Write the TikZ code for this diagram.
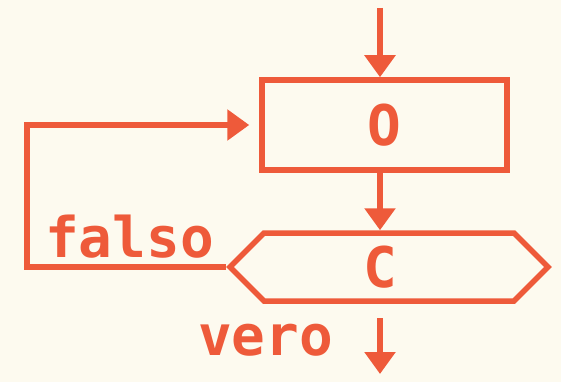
\documentclass[tikz,border=0pt]{standalone}
\usepackage{fontspec}
\setmonofont{DejaVu Sans Mono}
\usetikzlibrary{arrows.meta,shapes.symbols}
\definecolor{ink}{HTML}{EE5A3A}
\definecolor{paper}{HTML}{FDFAEF}
\tikzset{
  flow/.style={draw=ink, line width=5.5pt, line join=miter},
  arr/.style={flow, -{Triangle[length=22pt,width=30pt]}},
  lbl/.style={text=ink, font=\ttfamily\bfseries\fontsize{56}{56}\selectfont, inner sep=0pt},
}
\begin{document}
\begin{tikzpicture}[x=1pt,y=-1pt]
  \fill[paper] (0,0) rectangle (561,382);
  \useasboundingbox (0,0) rectangle (561,382);
  % operation box
  \node[flow, rectangle, minimum width=245pt, minimum height=90pt, inner sep=0pt,
        lbl] (o) at (384.5,125) {O};
  % condition hexagon
  \node[flow, signal, signal to=west and east, signal pointer angle=90,
        minimum width=318pt, minimum height=68pt, inner sep=0pt, lbl] (c) at (389,267) {};
  \node[lbl] (ct) at (380,267) {C};
  % free ends and loop corners
  \coordinate (in) at (380,8);
  \coordinate (out) at (380,374);
  \coordinate (lb) at (27,267);
  \coordinate (lt) at (27,125);
  \coordinate (ob) at (380,318);
  % connectors
  \draw[arr] (in) -- (in |- o.north);
  \draw[arr] (in |- o.south) -- (in |- c.north);
  \draw[arr] (c.west) -- (lb) -- (lt) -- ([xshift=-10pt]o.west);
  \draw[arr] (ob) -- (out);
  % branch labels
  \node[lbl, anchor=base west] (f) at (45,257) {falso};
  \node[lbl, anchor=base west] (v) at (198,355) {vero};
\end{tikzpicture}
\end{document}
